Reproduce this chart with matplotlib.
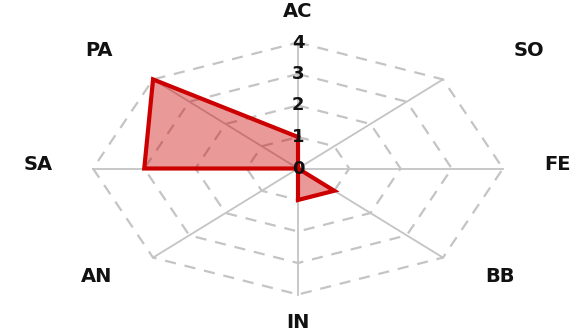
import numpy as np
import matplotlib.pyplot as plt

# Skill categories, clockwise from the top
labels = ["AC", "SO", "FE", "BB", "IN", "AN", "SA", "PA"]
values = [1, 0, 0, 1, 1, 0, 3, 4]
levels = [1, 2, 3, 4]
tick_labels = ["0", "1", "2", "3", "4"]

# pixel offsets of the category names from the outer ring
label_offsets = [(0, 31), (86, 29), (54, 4), (57, -19),
                 (0, -28), (-56, -19), (-55, 4), (-54, 29)]

n = len(labels)
angles = np.arange(n) * 2 * np.pi / n
ux, uy = np.sin(angles), np.cos(angles)

fig = plt.figure(figsize=(5.81, 3.36), dpi=100)
ax = fig.add_axes([0, 0, 1, 1])
ax.set_xlim(-298 / 51.25, 283 / 51.25)
ax.set_ylim(-167.5 / 31.5, 168.5 / 31.5)
ax.axis("off")

grid_color = "#c4c4c4"

# dashed octagon rings
for lv in levels:
    xs = np.append(ux * lv, ux[0] * lv)
    ys = np.append(uy * lv, uy[0] * lv)
    ax.plot(xs, ys, color=grid_color, lw=1.6, ls=(0, (5, 4)), zorder=1)

# spokes
for i in range(n):
    ax.plot([0, ux[i] * 4], [0, uy[i] * 4], color=grid_color, lw=1.3, zorder=1)

# data polygon
vals = np.array(values, dtype=float)
px = np.append(ux * vals, ux[0] * vals[0])
py = np.append(uy * vals, uy[0] * vals[0])
ax.fill(px, py, color=(0.8, 0, 0, 0.4), lw=0, zorder=2)
ax.plot(px, py, color="#cc0000", lw=3, solid_joinstyle="miter", zorder=3)

# radial tick labels along the top spoke
for i, t in enumerate(tick_labels):
    ax.text(0, i, t, ha="center", va="center", fontsize=13, fontweight="bold",
            family="DejaVu Sans", color="#111111", zorder=4)

# category names
for i, lab in enumerate(labels):
    ax.annotate(lab, (ux[i] * 4, uy[i] * 4), xytext=label_offsets[i],
                textcoords="offset pixels", ha="center", va="center",
                fontsize=14, fontweight="bold", family="DejaVu Sans",
                color="#111111")

fig.savefig("out.png", dpi=100)
